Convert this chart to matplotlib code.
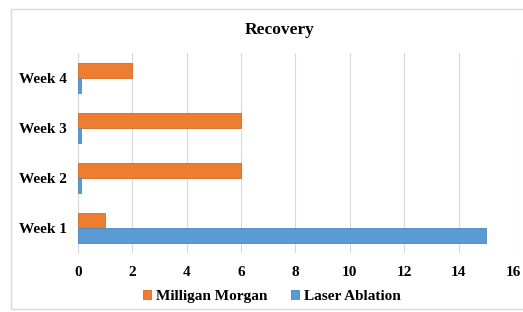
import matplotlib
matplotlib.use("Agg")
import matplotlib.pyplot as plt
import numpy as np
from matplotlib.patches import Rectangle
from matplotlib.font_manager import FontProperties

categories = ["Week 1", "Week 2", "Week 3", "Week 4"]
milligan_morgan = [1, 6, 6, 2]
laser_ablation = [15, 0.1, 0.1, 0.1]
xticks = [0, 2, 4, 6, 8, 10, 12, 14, 16]

plt.rcParams['font.family'] = ['Liberation Serif', 'DejaVu Serif']
plt.rcParams['font.weight'] = 'bold'

fig = plt.figure(figsize=(5.23, 3.12), dpi=100)
# chart frame
fig.patches.append(Rectangle((11/523, 3/312), 1.2, 1 - 12/312, transform=fig.transFigure,
                             fill=False, edgecolor='#d9d9d9', linewidth=1.0))
ax = fig.add_axes([0.149, 0.189, 0.832, 0.641])

y = np.arange(len(categories))
h = 0.3
ax.barh(y + h/2, milligan_morgan, height=h, color='#ED7D31', edgecolor='#d46a22', linewidth=0.6,
        label='Milligan Morgan', zorder=3)
ax.barh(y - h/2, laser_ablation, height=h, color='#5B9BD5', edgecolor='#4a88c2', linewidth=0.6,
        label='Laser Ablation', zorder=3)

ax.set_xlim(0, 16)
ax.set_ylim(-0.5, 3.5)
ax.set_xticks(xticks)
ax.set_xticklabels([str(t) for t in xticks], fontsize=11, fontweight='bold')
ax.set_yticks(y)
ax.set_yticklabels(categories, fontsize=11, fontweight='bold')
ax.tick_params(axis='both', length=0, pad=8)
ax.tick_params(axis='x', pad=9)
ax.grid(axis='x', color='#d9d9d9', linewidth=0.8, zorder=0)
for s in ['top', 'right', 'bottom']:
    ax.spines[s].set_visible(False)
ax.spines['left'].set_color('#d9d9d9')
ax.spines['left'].set_linewidth(0.8)

fig.text(0.535, 0.905, 'Recovery', ha='center', va='center', fontsize=12.5, fontweight='bold')

fp = FontProperties(family='Liberation Serif', weight='bold', size=11)
leg = fig.legend(loc='center', bbox_to_anchor=(0.52, 0.05), ncol=2, frameon=False,
                 handlelength=0.5, handleheight=0.5, handletextpad=0.3,
                 columnspacing=1.6, prop=fp)

fig.savefig('out.png', dpi=100)
